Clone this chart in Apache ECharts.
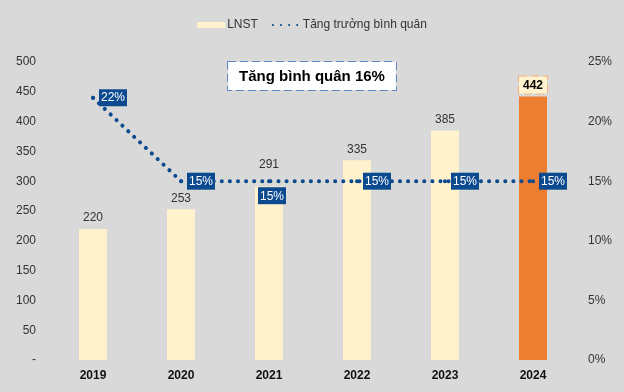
<!DOCTYPE html>
<html><head><meta charset="utf-8">
<script src="https://cdn.jsdelivr.net/npm/echarts@6/dist/echarts.min.js"></script>
<style>html,body{margin:0;padding:0;background:#d9d9d9}#c{width:624px;height:392px}</style>
</head><body><div id="c"></div>
<script>
var categories = ['2019','2020','2021','2022','2023','2024'];
var lnst = [220, 253, 291, 335, 385, 442];
var growth = [22, 15, 15, 15, 15, 15];
var leftTicks = [0, 50, 100, 150, 200, 250, 300, 350, 400, 450, 500];

var FONT = 'Liberation Sans, Arial, sans-serif';
var chart = echarts.init(document.getElementById('c'));
var barData = lnst.map(function (v, i) {
  if (i === lnst.length - 1) {
    return {
      value: v,
      itemStyle: { color: '#ed7d31' },
      label: {
        formatter: '{b|{c}}',
        distance: 3,
        rich: { b: { fontWeight: 'bold', color: '#000', fontSize: 12, fontFamily: FONT,
          backgroundColor: '#fff2cc', borderColor: '#f4b183', borderWidth: 1, borderType: 'dashed',
          padding: [3, 4, 2, 4] } }
      }
    };
  }
  if (i === 2) return { value: v, label: { distance: 16 } };
  return v;
});
var lineData = growth.map(function (v, i) {
  if (i === 2) return { value: v, label: { position: 'bottom', distance: 4, offset: [3, 0] } };
  return v;
});
chart.setOption({
  backgroundColor: '#d9d9d9',
  animation: false,
  textStyle: { fontFamily: FONT },
  title: {
    text: '{a|Tăng bình quân 16%}',
    left: 'center',
    top: 62,
    padding: 0,
    textStyle: {
      rich: { a: { fontSize: 15, fontWeight: 'bold', color: '#000', fontFamily: FONT,
        backgroundColor: '#fff', borderColor: '#5b87c5', borderWidth: 1, borderType: 'dashed',
        padding: [7, 11, 6, 11] } }
    }
  },
  legend: {
    top: 14,
    left: 'center',
    itemGap: 14,
    itemWidth: 28,
    itemHeight: 6,
    textStyle: { color: '#333', fontSize: 12, fontFamily: FONT, padding: [0, 0, 0, -3] },
    data: [
      { name: 'LNST', icon: 'rect' },
      { name: 'Tăng trưởng bình quân', itemStyle: { opacity: 0 } }
    ]
  },
  grid: { left: 49, right: 47, top: 62, bottom: 32 },
  xAxis: {
    type: 'category',
    data: categories,
    axisLine: { show: false },
    axisTick: { show: false },
    axisLabel: { color: '#111', fontWeight: 'bold', fontSize: 12, margin: 10 }
  },
  yAxis: [
    {
      type: 'value', min: 0, max: 500, interval: 50,
      splitLine: { show: false }, axisLine: { show: false }, axisTick: { show: false },
      axisLabel: { color: '#333', fontSize: 12, margin: 13,
        formatter: function (v) { return v === 0 ? '-' : String(v); } }
    },
    {
      type: 'value', min: 0, max: 25, interval: 5,
      splitLine: { show: false }, axisLine: { show: false }, axisTick: { show: false },
      axisLabel: { color: '#333', fontSize: 12, margin: 11, formatter: '{value}%' }
    }
  ],
  series: [
    {
      name: 'LNST', type: 'bar', data: barData, barWidth: 28, yAxisIndex: 0,
      itemStyle: { color: '#fff2cc' },
      label: { show: true, position: 'top', distance: 5, color: '#333', fontSize: 12 }
    },
    {
      name: 'Tăng trưởng bình quân', type: 'line', data: lineData, yAxisIndex: 1, z: 5,
      symbol: 'circle', symbolSize: 4,
      itemStyle: { color: '#0b4a8f' },
      lineStyle: { color: '#0b4a8f', width: 4, type: [0.1, 8], cap: 'round' },
      label: { show: true, position: 'right', distance: 4, formatter: '{c}%',
        color: '#fff', fontSize: 12, backgroundColor: '#0b4a8f', padding: [3, 2, 2, 2] }
    }
  ]
});
</script></body></html>
